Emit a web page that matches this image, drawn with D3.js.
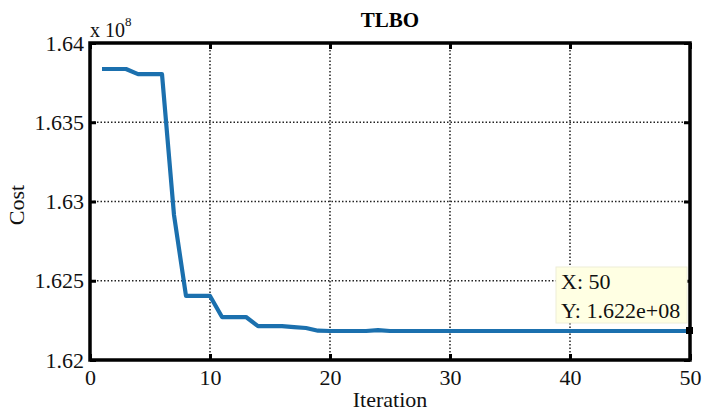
<!DOCTYPE html>
<html><head><meta charset="utf-8">
<script src="https://cdn.jsdelivr.net/npm/d3@7"></script>
<style>body{margin:0;background:#fff}svg{display:block}</style>
</head><body>
<svg id="c" width="703" height="411"></svg>
<script>
const iterations = d3.range(1, 51);
const costValues = [1.63836,1.63836,1.63836,1.63804,1.63804,1.63804,1.62915,1.62404,1.62404,1.62404,
  1.62271,1.62271,1.62271,1.62214,1.62214,1.62214,1.62208,1.62202,1.62185,1.62183,
  1.62183,1.62183,1.62183,1.62188,1.62183,1.62183,1.62183,1.62183,1.62183,1.62183,
  1.62183,1.62183,1.62183,1.62183,1.62183,1.62183,1.62183,1.62183,1.62183,1.62183,
  1.62183,1.62183,1.62183,1.62183,1.62183,1.62183,1.62183,1.62183,1.62183,1.62183];
const xTicks = [0,10,20,30,40,50];
const yTicks = [1.62,1.625,1.63,1.635,1.64];
const yTickLabels = ["1.62","1.625","1.63","1.635","1.64"];
const tipLines = ["X: 50","Y: 1.622e+08"];

const L=90,R=690,T=43,B=360;
const svg=d3.select("#c");
const x=d3.scaleLinear().domain([0,50]).range([L,R]);
const y=d3.scaleLinear().domain([1.62,1.64]).range([B,T]);
const font="'Liberation Serif','Times New Roman',serif";
const FS=22;

// grid
const g=svg.append("g");
xTicks.slice(1,-1).forEach(t=>g.append("line").attr("x1",x(t)).attr("x2",x(t)).attr("y1",T).attr("y2",B)
  .attr("stroke","#222").attr("stroke-width",1.5).attr("stroke-dasharray","1.5,2"));
yTicks.slice(1,-1).forEach(t=>g.append("line").attr("x1",L).attr("x2",R).attr("y1",y(t)).attr("y2",y(t))
  .attr("stroke","#222").attr("stroke-width",1.5).attr("stroke-dasharray","1.5,2"));

// line
svg.append("path").datum(iterations.map((d,i)=>[d,costValues[i]]))
  .attr("d",d3.line().x(d=>x(d[0])).y(d=>y(d[1])))
  .attr("fill","none").attr("stroke","#1b70ae").attr("stroke-width",4.2).attr("stroke-linejoin","round");

// axes
const ax=d3.axisBottom(x).tickValues(xTicks).tickSize(-6).tickPadding(9).tickFormat(d3.format("d"));
const ay=d3.axisLeft(y).tickValues(yTicks).tickSize(-6).tickPadding(6).tickFormat((d,i)=>yTickLabels[i]);
const axt=d3.axisTop(x).tickValues(xTicks).tickSize(-6).tickFormat("");
const ayr=d3.axisRight(y).tickValues(yTicks).tickSize(-6).tickFormat("");
[[ax,`translate(0,${B})`],[ay,`translate(${L},0)`],[axt,`translate(0,${T})`],[ayr,`translate(${R},0)`]].forEach(([a,tr])=>{
  const gg=svg.append("g").attr("transform",tr).call(a).attr("font-family",font).attr("font-size",FS);
  gg.select(".domain").remove();
  gg.selectAll(".tick line").attr("stroke","#000").attr("stroke-width",3);
  gg.selectAll("text").style("font-family",font).style("font-size",FS+"px").attr("fill","#111");
});
svg.append("rect").attr("x",L).attr("y",T).attr("width",R-L).attr("height",B-T)
  .attr("fill","none").attr("stroke","#000").attr("stroke-width",3.5);

// titles
svg.append("text").attr("x",390).attr("y",27).attr("text-anchor","middle").style("font-family",font)
  .attr("font-weight","bold").style("font-size","21px").text("TLBO");
svg.append("text").attr("x",390).attr("y",407).attr("text-anchor","middle").style("font-family",font)
  .style("font-size",FS+"px").attr("fill","#111").text("Iteration");
svg.append("text").attr("transform","translate(24,205) rotate(-90)").attr("text-anchor","middle")
  .style("font-family",font).style("font-size",FS+"px").attr("fill","#111").text("Cost");
const ex=svg.append("text").attr("x",90).attr("y",37).style("font-family",font).style("font-size","20px").attr("fill","#111");
ex.append("tspan").text("x 10");
ex.append("tspan").attr("dy",-11).style("font-size","13px").text("8");

// data tip
const px=x(50), py=y(costValues[49]);
svg.append("rect").attr("x",px-4).attr("y",py-4).attr("width",7).attr("height",7).attr("fill","#000");
svg.append("rect").attr("x",556).attr("y",267).attr("width",131).attr("height",56)
  .attr("fill","#ffffe3").attr("stroke","#eeeed8").attr("stroke-width",1);
tipLines.forEach((t,i)=>svg.append("text").attr("x",561).attr("y",289+i*29).style("font-family",font)
  .style("font-size",FS+"px").attr("fill","#111").text(t));
</script>
</body></html>
